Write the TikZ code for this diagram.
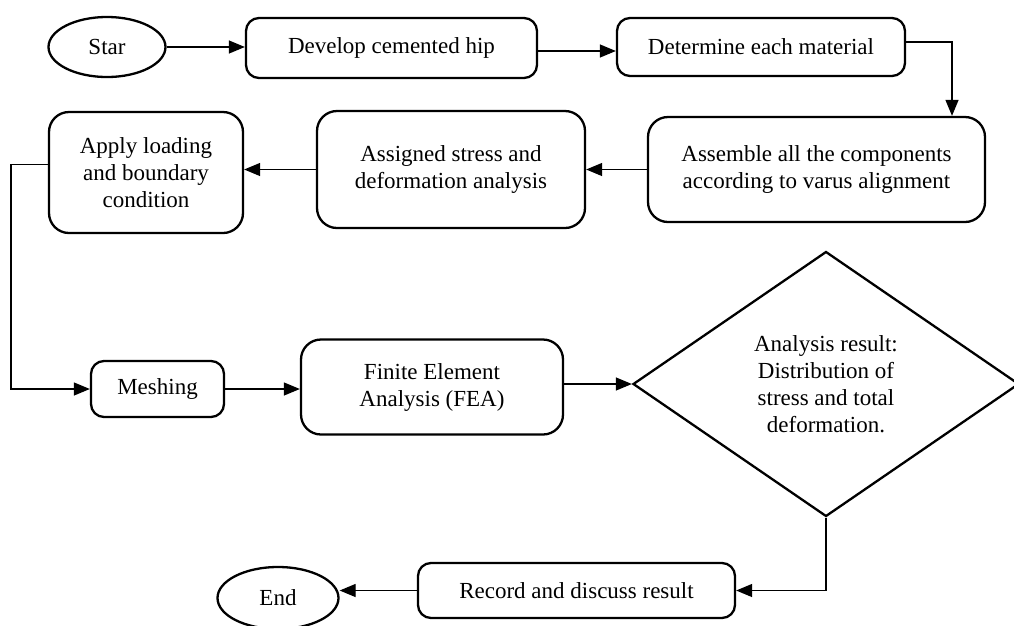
\documentclass[tikz,border=0pt]{standalone}
\usepackage{fontspec}
\setmainfont{Liberation Serif}
\usetikzlibrary{shapes.geometric,arrows.meta}
\begin{document}
\begin{tikzpicture}[x=1pt,y=-1pt,
  every node/.style={font=\fontsize{23}{27}\selectfont, align=center, inner sep=0pt},
  box/.style={draw, line width=2.3pt, rounded corners=13pt},
  bigbox/.style={draw, line width=2.3pt, rounded corners=20pt},
  oval/.style={draw, ellipse, line width=2.3pt},
  decision/.style={draw, diamond, line width=2.3pt, aspect=1.45, minimum width=386pt, minimum height=265pt},
  arr/.style={line width=1.3pt, -{Triangle[length=16pt,width=13pt]}}]
\useasboundingbox (0,0) rectangle (1014,625);
\clip (0,0) rectangle (1014,625);
\node[oval, minimum width=117pt, minimum height=60pt] (star) at (107,47) {Star};
\node[box, minimum width=291pt, minimum height=60pt] (dev) at (391.5,48) {Develop cemented hip};
\node[box, minimum width=288pt, minimum height=58pt] (det) at (761,47) {Determine each material};
\node[bigbox, minimum width=337pt, minimum height=105pt] (asm) at (816.5,169.5) {Assemble all the components\\according to varus alignment};
\node[bigbox, minimum width=268pt, minimum height=117pt] (asg) at (451,169.5) {Assigned stress and\\deformation analysis};
\node[bigbox, minimum width=194pt, minimum height=121pt] (app) at (146,172.5) {Apply loading\\and boundary\\condition};
\node[box, minimum width=133pt, minimum height=56pt] (mesh) at (157.5,389) {Meshing};
\node[bigbox, minimum width=262pt, minimum height=95pt] (fea) at (432,387) {Finite Element\\Analysis (FEA)};
\node[decision] (dia) at (826,384) {Analysis result:\\Distribution of\\stress and total\\deformation.};
\node[box, minimum width=317pt, minimum height=55pt] (rec) at (576.5,590.5) {Record and discuss result};
\node[oval, minimum width=121pt, minimum height=62pt] (end) at (278,598) {End};
\draw[arr] (star.east) -- (star.east -| dev.west);
\draw[arr] ([yshift=-3pt]dev.east) -- ([yshift=-3pt]dev.east -| det.west);
\draw[arr] ([yshift=5pt]det.east) -| ([xshift=135.5pt]asm.north);
\draw[arr] (asm.west) -- (asm.west -| asg.east);
\draw[arr] (asg.west) -- (asg.west -| app.east);
\draw[arr] ([yshift=8pt]app.west) -- ++(-37,0) |- (mesh.west);
\draw[arr] (mesh.east) -- (mesh.east -| fea.west);
\draw[arr] (fea.east |- dia.west) -- (dia.west);
\draw[arr] (dia.south) |- (rec.east);
\draw[arr] (rec.west) -- (rec.west -| end.east);
\end{tikzpicture}
\end{document}
